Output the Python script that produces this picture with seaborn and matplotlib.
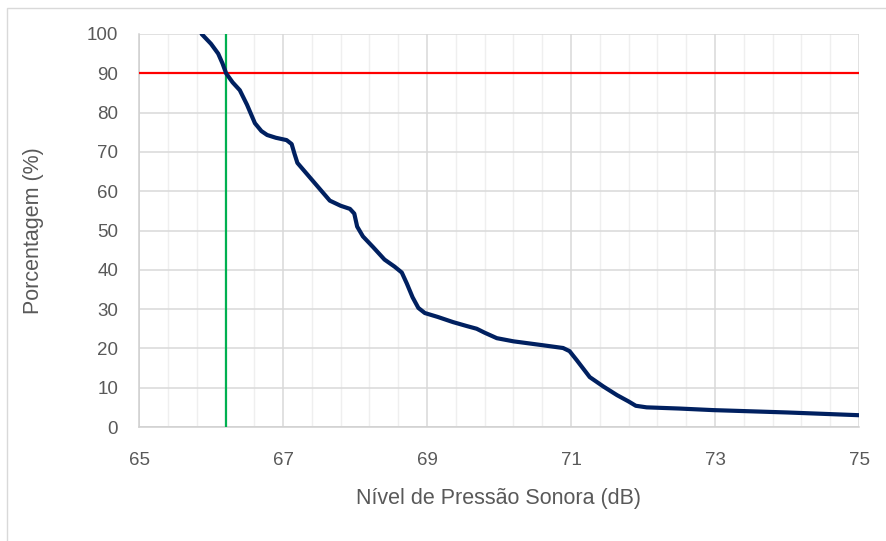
import seaborn as sns
import matplotlib.pyplot as plt
import matplotlib.patches as mpatches
import pandas as pd

# valores
nivel_db = [65.87, 66.00, 66.10, 66.16, 66.21, 66.30, 66.40, 66.50, 66.61, 66.70,
            66.78, 66.90, 67.05, 67.12, 67.16, 67.20, 67.35, 67.50, 67.65, 67.80,
            67.93, 67.99, 68.03, 68.11, 68.25, 68.41, 68.55, 68.65, 68.72, 68.80,
            68.88, 68.97, 69.15, 69.36, 69.55, 69.69, 69.80, 69.97, 70.20, 70.57,
            70.89, 70.98, 71.08, 71.26, 71.45, 71.64, 71.80, 71.90, 72.05, 72.50,
            72.97, 74.00, 75.00]
porcentagem = [100.0, 97.5, 95.0, 92.5, 90.0, 87.7, 85.7, 82.0, 77.3, 75.3,
               74.3, 73.6, 73.0, 72.0, 69.5, 67.2, 64.0, 60.8, 57.6, 56.3,
               55.5, 54.3, 51.0, 48.5, 45.8, 42.6, 40.8, 39.3, 36.5, 33.0,
               30.3, 29.0, 28.0, 26.7, 25.7, 25.0, 24.0, 22.6, 21.8, 20.9,
               20.1, 19.3, 17.0, 12.7, 10.3, 8.1, 6.5, 5.4, 5.0, 4.7,
               4.3, 3.7, 3.0]
x_ticks = [65, 67, 69, 71, 73, 75]
x_minor = [65.4, 65.8, 66.2, 66.6, 67.4, 67.8, 68.2, 68.6, 69.4, 69.8, 70.2, 70.6,
           71.4, 71.8, 72.2, 72.6, 73.4, 73.8, 74.2, 74.6]
y_ticks = [0, 10, 20, 30, 40, 50, 60, 70, 80, 90, 100]
limite_pct = 90
nivel_l90 = 66.21

df = pd.DataFrame({'nivel': nivel_db, 'pct': porcentagem})

sns.set_theme(style='white')
plt.rcParams['font.family'] = ['Liberation Sans Narrow', 'Liberation Sans', 'DejaVu Sans']

fig = plt.figure(figsize=(8.86, 5.41), dpi=100)
ax = fig.add_axes([139 / 886, 1 - 427 / 541, 720 / 886, 393 / 541])

# moldura da area do grafico
fig.patches.append(mpatches.Rectangle((7 / 886, -0.05), 1.2, 1 - 8 / 541 + 0.05,
                                      transform=fig.transFigure, fill=False,
                                      edgecolor='#d9d9d9', lw=1))

sns.lineplot(data=df, x='nivel', y='pct', ax=ax, color='#002060', lw=3.0,
             sort=False, zorder=4)
ax.axhline(limite_pct, color='#ff0000', lw=1.6, zorder=3)
ax.axvline(nivel_l90, color='#00b050', lw=1.6, zorder=3)

ax.set_xlim(65, 75)
ax.set_ylim(0, 100)
ax.set_xticks(x_ticks)
ax.set_xticks(x_minor, minor=True)
ax.set_yticks(y_ticks)
ax.grid(which='major', color='#d9d9d9', lw=1.1)
ax.grid(which='minor', axis='x', color='#efefef', lw=1.0)
ax.set_axisbelow(True)

for s in ['top', 'right']:
    ax.spines[s].set_visible(False)
for s in ['left', 'bottom']:
    ax.spines[s].set_color('#d0d0d0')
    ax.spines[s].set_linewidth(1.1)

ax.tick_params(axis='both', which='both', length=0, labelsize=13.5,
               labelcolor='#595959')
ax.tick_params(axis='x', pad=18)
ax.tick_params(axis='y', pad=15)

ax.set_xlabel('Nível de Pressão Sonora (dB)', fontsize=15.5, color='#595959', labelpad=14)
ax.set_ylabel('Porcentagem (%)', fontsize=15.5, color='#595959', labelpad=31)

plt.savefig('out.png', dpi=100)
